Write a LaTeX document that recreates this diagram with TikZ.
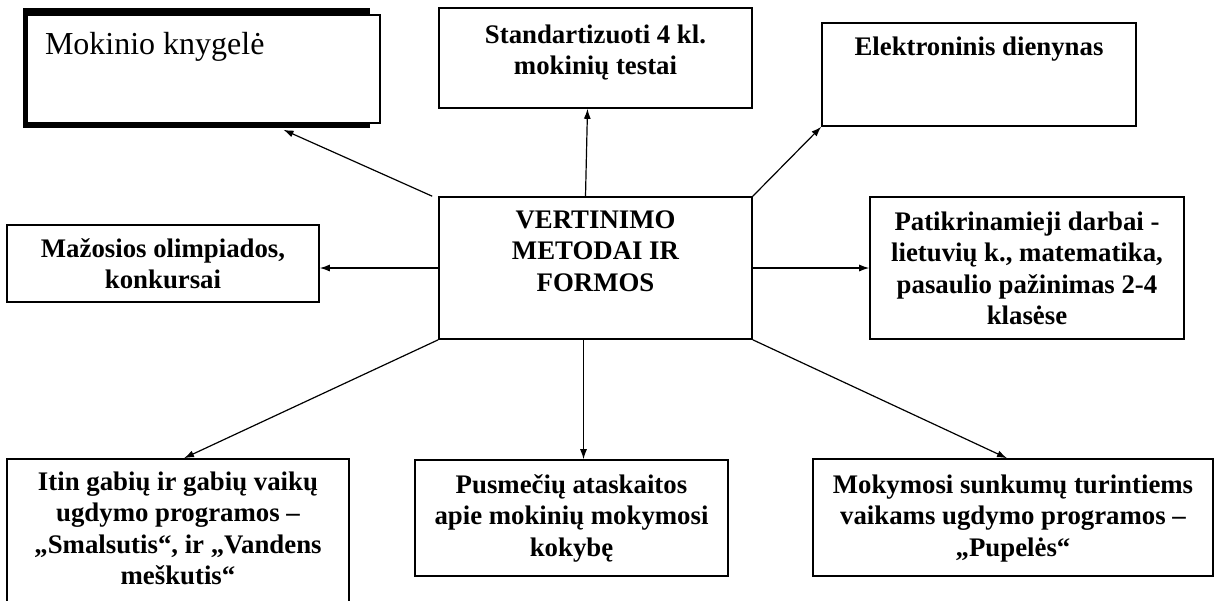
\documentclass[tikz,border=0pt]{standalone}
\usepackage{fontspec}
\setmainfont{Liberation Serif}
\usetikzlibrary{arrows.meta}
\tikzstyle{blok}=[draw, line width=0.8pt, inner sep=0pt, fill=white, font=\fontsize{13.4}{15.8}\selectfont\bfseries]
\tikzstyle{rod}=[-{Latex[length=5pt,width=3.5pt]}, line width=0.6pt]
\newcommand{\blok}{\node[blok]}
\newcommand{\turinys}[4]{\parbox[c][#2][t]{#1}{\centering\rule{0pt}{#3}#4}}

\begin{document}
\begin{tikzpicture}[x=0.5pt, y=-0.5pt]
\useasboundingbox (0,0) rectangle (1214,600);
\clip (0,0) rectangle (1214,600);
\fill (23,8) rectangle (370,128);
\blok[font=\fontsize{16}{19}\selectfont] (knyg) at (203.5,69) {\parbox[c][54pt][t]{176.5pt}{\raggedright\hspace*{9pt}\rule{0pt}{19.5pt}Mokinio knygelė}};
\blok (std) at (595.5,58) {\turinys{156.5pt}{50pt}{17.5pt}{Standartizuoti 4 kl.\\ mokinių testai}};
\blok (ele) at (979,74.5) {\turinys{157pt}{51.5pt}{16pt}{Elektroninis dienynas}};
\blok (ctr) at (595.5,268) {\turinys{156.5pt}{71pt}{15.5pt}{VERTINIMO\\ METODAI IR\\ FORMOS}};
\blok (maz) at (163,263.5) {\turinys{156pt}{38.5pt}{16pt}{Mažosios olimpiados,\\ konkursai}};
\blok (pat) at (1027,268) {\turinys{157pt}{71pt}{16.5pt}{Patikrinamieji darbai -\\ lietuvių k., matematika,\\ pasaulio pažinimas 2-4\\ klasėse}};
\blok (itin) at (178,539.5) {\turinys{171pt}{80.5pt}{15.5pt}{Itin gabių ir gabių vaikų\\ ugdymo programos –\\ „Smalsutis“, ir „Vandens\\ meškutis“}};
\blok (pus) at (571.5,518) {\turinys{156.5pt}{58pt}{16.5pt}{Pusmečių ataskaitos\\ apie mokinių mokymosi\\ kokybę}};
\blok (muk) at (1013,517.5) {\turinys{200pt}{58.5pt}{17pt}{Mokymosi sunkumų turintiems\\ vaikams ugdymo programos –\\ „Pupelės“}};

\draw[rod] ([xshift=-3pt]ctr.north west) -- ([xshift=40pt,yshift=-3pt]knyg.south);
\draw[rod] ([xshift=-5pt]ctr.north) -- ([xshift=-4pt]std.south);
\draw[rod] (ctr.north east) -- (ele.south west);
\draw[rod] (ctr.west) -- (ctr.west -| maz.east);
\draw[rod] (ctr.east) -- (pat.west);
\draw[rod] (ctr.south west) -- ([xshift=3pt]itin.north);
\draw[rod] ([xshift=-6pt]ctr.south) -- ([xshift=6pt]pus.north);
\draw[rod] (ctr.south east) -- ([xshift=-3pt]muk.north);
\end{tikzpicture}
\end{document}
